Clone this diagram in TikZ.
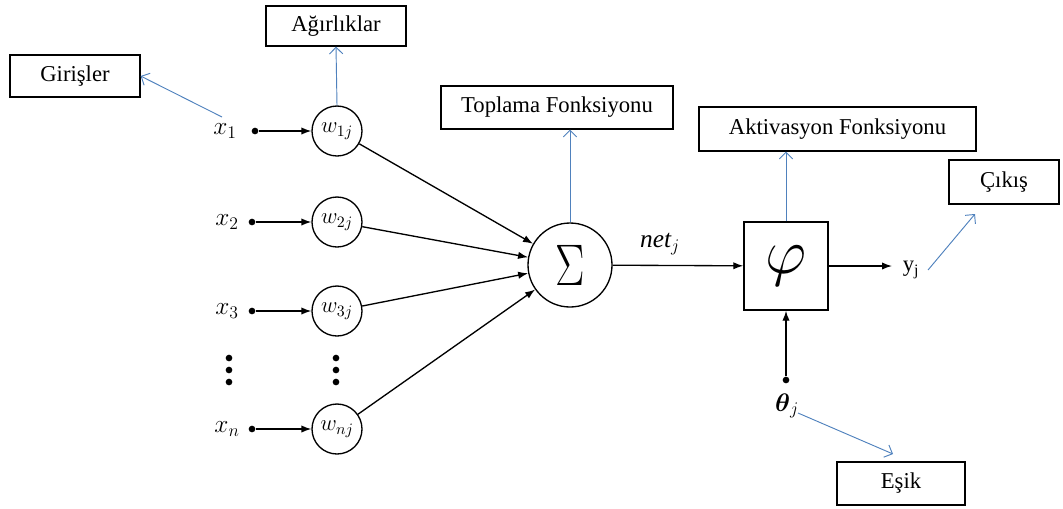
\RequirePackage{fix-cm}
\documentclass[tikz,border=0pt]{standalone}
\usepackage{amsmath}
\usepackage{graphicx}
\usepackage{fontspec}
\setmainfont{Liberation Serif}
\usetikzlibrary{arrows.meta}
\definecolor{callout}{RGB}{79,129,189}
\begin{document}
\begin{tikzpicture}[x=0.75pt,y=-0.75pt,
  lbox/.style 2 args={draw,line width=0.9pt,inner sep=0pt,minimum width=#1*0.75pt,minimum height=#2*0.75pt,font=\fontsize{17}{19}\selectfont},
  wcirc/.style={draw,circle,line width=1pt,inner sep=0pt,minimum size=50*0.75pt,font=\fontsize{17}{18}\selectfont},
  inlab/.style={font=\fontsize{19}{20}\selectfont},
  sig/.style={line width=1pt,-{Latex[length=7.5pt,width=5.5pt]}},
  note/.style={callout,line width=0.7pt,-{Straight Barb[length=5pt,width=10pt]}},
  dotm/.style={circle,fill,inner sep=0pt,minimum size=5pt}
]
\useasboundingbox (0,0) rectangle (1063,508);

% label boxes
\node[lbox={130}{42}] (gir) at (75,76) {Girişler};
\node[lbox={140}{40}] (agr) at (336,26) {Ağırlıklar};
\node[lbox={232}{43}] (top) at (557,107.5) {Toplama Fonksiyonu};
\node[lbox={277}{44}] (akt) at (837.5,129) {Aktivasyon Fonksiyonu};
\node[lbox={110}{44}] (cik) at (1004,182) {Çıkış};
\node[lbox={128}{43}] (esk) at (901,483.5) {Eşik};

% weight circles
\node[wcirc] (w1) at (337,131) {$w_{1j}$};
\node[wcirc] (w2) at (337,222) {$w_{2j}$};
\node[wcirc] (w3) at (337,311) {$w_{3j}$};
\node[wcirc] (wn) at (337,429) {$w_{nj}$};

% input dots and labels
\node[dotm] (d1) at (255,131) {};
\node[dotm] (d2) at (252,222) {};
\node[dotm] (d3) at (252,311) {};
\node[dotm] (dn) at (252,429) {};
\node[inlab] (x1) at (225,131) {$x_1$};
\node[inlab] (x2) at (227,222) {$x_2$};
\node[inlab] (x3) at (227,311) {$x_3$};
\node[inlab] (xn) at (227,429) {$x_n$};

% vertical ellipses
\foreach \yy [count=\i] in {358,370,382}{
  \node[dotm,minimum size=5pt] (ex\i) at (229,\yy) {};
  \node[dotm,minimum size=5pt] (ew\i) at (336,\yy) {};
}

% summation and activation
\node[draw,circle,line width=1pt,inner sep=0pt,minimum size=84*0.75pt,font=\fontsize{44}{44}\selectfont] (sum) at (570,265) {\scalebox{0.75}[1]{$\Sigma$}};
\node[draw,line width=1.1pt,inner sep=0pt,minimum width=84*0.75pt,minimum height=88*0.75pt,font=\fontsize{48}{48}\selectfont] (phi) at (786,266) {$\varphi$};
\node[font=\fontsize{19}{20}\selectfont] (net) at (660,244) {$\mathit{net}_j$};
\node[font=\fontsize{17}{18}\selectfont] (yj) at (911,270) {y\textsubscript{j}};
\coordinate (yend) at (892,266);
\node[dotm] (td) at (786,380) {};
\node[font=\fontsize{19}{20}\selectfont] (th) at (787,406) {$\boldsymbol{\theta}_j$};

% signal arrows
\draw[sig] (d1) -- (w1);
\draw[sig] (d2) -- (w2);
\draw[sig] (d3) -- (w3);
\draw[sig] (dn) -- (wn);
\draw[sig] (w1) -- (sum);
\draw[sig] (w2) -- (sum);
\draw[sig] (w3) -- (sum);
\draw[sig] (wn) -- (sum);
\draw[sig] (sum) -- (phi);
\draw[sig] (phi) -- (yend);
\draw[sig] (td) -- (phi);

% callout arrows
\coordinate (gs) at (222,117);
\coordinate (cs) at (928,270);
\coordinate (ce) at (975,214);
\coordinate (es) at (798,413);
\coordinate (ee) at (893,454);
\draw[note] (gs) -- (gir.east);
\draw[note] (w1.north) -- (agr.south);
\draw[note] (sum.north) -- (sum.north |- top.south);
\draw[note] (phi.north) -- (phi.north |- akt.south);
\draw[note] (cs) -- (ce);
\draw[note] (es) -- (ee);
\end{tikzpicture}
\end{document}
